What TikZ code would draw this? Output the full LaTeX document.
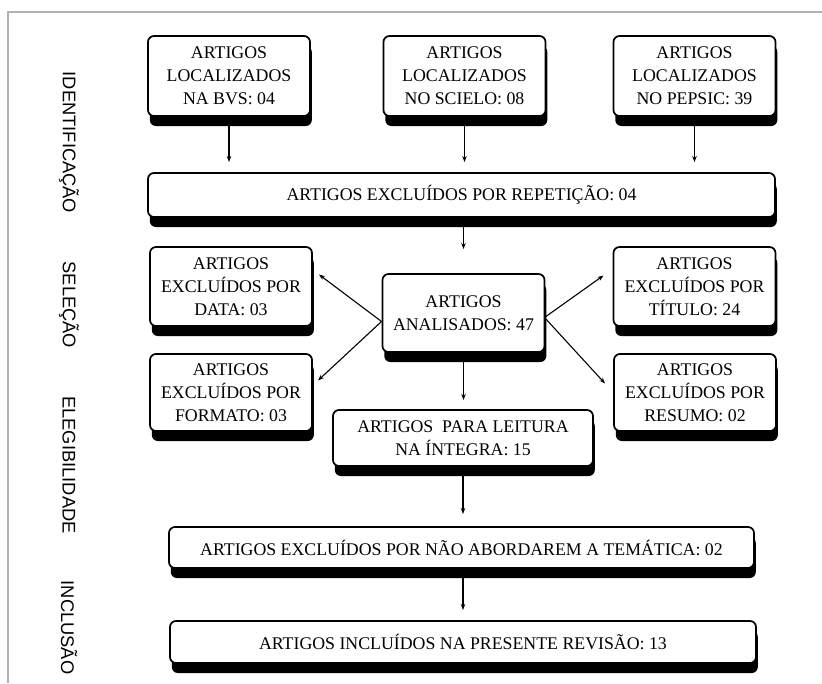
\documentclass[tikz,border=0pt]{standalone}
\usepackage{fontspec}
\setmainfont{Liberation Serif}
\newfontfamily\rotulofont{Liberation Sans}
\usetikzlibrary{arrows.meta,backgrounds}

\tikzset{
  caixa/.style={draw, line width=1.7pt, rounded corners=6pt, fill=white,
    align=center, inner sep=0pt, outer sep=0pt, font=\fontsize{17.8}{23}\selectfont},
  pequena/.style={caixa, minimum width=162pt, minimum height=80pt},
  rotulo/.style={rotate=-90, inner sep=0pt, font=\rotulofont\fontsize{18.3}{20}\selectfont},
  seta/.style={-{Stealth[length=6pt,width=4.5pt]}, line width=1.1pt},
}

\begin{document}
\begin{tikzpicture}[x=1pt,y=-1pt]
% pixel coordinates, y pointing down
\useasboundingbox (0,0) rectangle (822,683);
\draw[gray!60, line width=1.5pt] (822,12) -- (8,12) -- (8,683);

% fases, lidas de cima para baixo
\node[rotulo] (ident) at (69,142.5) {IDENTIFICAÇÃO};
\node[rotulo] (selec) at (69,305) {SELEÇÃO};
\node[rotulo] (elegi) at (69,465) {ELEGIBILIDADE};
\node[rotulo] (inclu) at (69,627.5) {INCLUSÃO};

% bases de dados
\node[pequena, minimum height=80pt] (bvs) at (229,76) {ARTIGOS\\LOCALIZADOS\\NA BVS: 04};
\node[pequena, minimum height=80pt] (scielo) at (464.5,76) {ARTIGOS\\LOCALIZADOS\\NO SCIELO: 08};
\node[pequena, minimum height=80pt] (pepsic) at (694.5,76) {ARTIGOS\\LOCALIZADOS\\NO PEPSIC: 39};

\node[caixa, minimum width=627pt, minimum height=44pt] (repet) at (461.5,195) {ARTIGOS EXCLUÍDOS POR REPETIÇÃO: 04};

% triagem
\node[pequena, minimum height=78pt] (anal) at (463.5,313) {ARTIGOS\\ANALISADOS: 47};
\node[pequena, minimum height=79pt] (data) at (231,286.5) {ARTIGOS\\EXCLUÍDOS POR\\DATA: 03};
\node[pequena, minimum height=79pt] (titulo) at (694.5,286.5) {ARTIGOS\\EXCLUÍDOS POR\\TÍTULO: 24};
\node[pequena, minimum height=77pt] (formato) at (231,392.5) {ARTIGOS\\EXCLUÍDOS POR\\FORMATO: 03};
\node[pequena, minimum height=77pt] (resumo) at (695,392.5) {ARTIGOS\\EXCLUÍDOS POR\\RESUMO: 02};

\node[caixa, minimum width=260pt, minimum height=56pt] (leitura) at (463,438) {ARTIGOS\ \ PARA LEITURA\\NA ÍNTEGRA: 15};
\node[caixa, minimum width=585pt, minimum height=41pt] (tematica) at (461.5,547.5) {ARTIGOS EXCLUÍDOS POR NÃO ABORDAREM A TEMÁTICA: 02};
\node[caixa, minimum width=586pt, minimum height=42pt] (revisao) at (463,642) {ARTIGOS INCLUÍDOS NA PRESENTE REVISÃO: 13};

% sombra preta deslocada para baixo, atras de cada caixa
\begin{scope}[on background layer]
  \foreach \n in {bvs,scielo,pepsic,repet,anal,data,titulo,formato,resumo,leitura,tematica,revisao}
    \fill[rounded corners=6pt] ([shift={(1.8,10)}]\n.north west) rectangle ([shift={(1.8,10)}]\n.south east);
\end{scope}

% setas verticais
\foreach \n in {bvs,scielo,pepsic}
  \draw[seta, shorten <=10pt, shorten >=11pt] (\n.south) -- (\n.south |- repet.north);
\draw[seta, shorten <=10pt, shorten >=25pt] (anal.north |- repet.south) -- (anal.north);
\draw[seta, shorten <=10pt, shorten >=10pt] (anal.south) -- (anal.south |- leitura.north);
\draw[seta, shorten <=10pt, shorten >=13pt] (leitura.south) -- (leitura.south |- tematica.north);
\draw[seta, shorten <=10pt, shorten >=11pt] (leitura.south |- tematica.south) -- (leitura.south |- revisao.north);

% setas diagonais
\draw[seta] ([shift={(-1,8.5)}]anal.west) -- ([shift={(7,-12)}]data.east);
\draw[seta] ([shift={(-1,8.5)}]anal.west) -- ([shift={(6,-12)}]formato.east);
\draw[seta] ([shift={(0,4.5)}]anal.east) -- ([shift={(-10,-11)}]titulo.west);
\draw[seta] ([shift={(0,4.5)}]anal.east) -- ([shift={(-9,-9)}]resumo.west);
\end{tikzpicture}
\end{document}
